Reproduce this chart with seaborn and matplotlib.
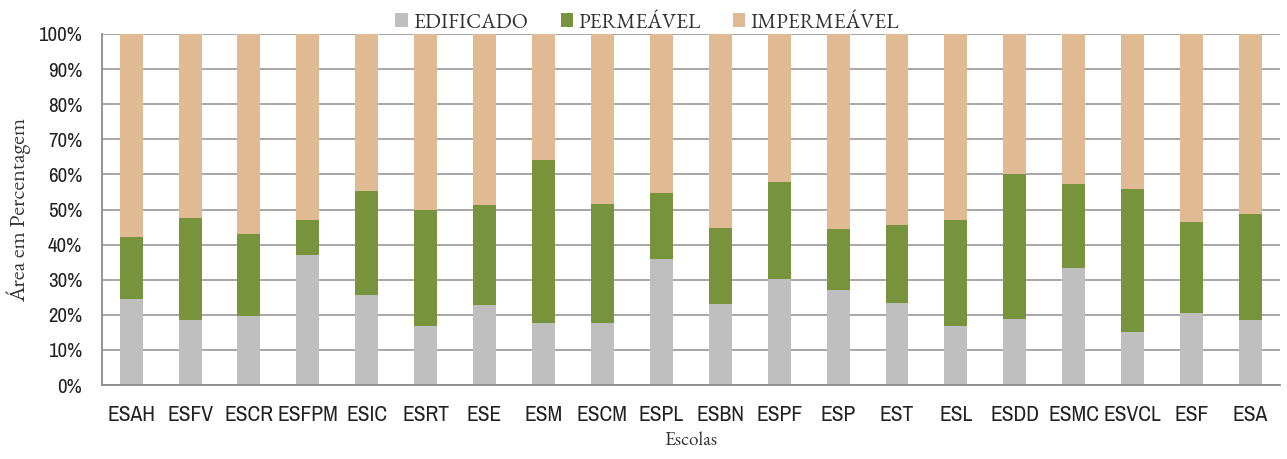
import numpy as np
import pandas as pd
import matplotlib
matplotlib.use('Agg')
import matplotlib.pyplot as plt
import seaborn as sns
from matplotlib.patches import Patch
from matplotlib.ticker import FixedLocator

# data (percent of area)
escolas = ['ESAH', 'ESFV', 'ESCR', 'ESFPM', 'ESIC', 'ESRT', 'ESE', 'ESM', 'ESCM', 'ESPL',
           'ESBN', 'ESPF', 'ESP', 'EST', 'ESL', 'ESDD', 'ESMC', 'ESVCL', 'ESF', 'ESA']
edificado = [24.6, 18.4, 19.8, 37.1, 25.8, 16.7, 22.9, 17.7, 17.7, 35.9,
             23.2, 30.3, 27.0, 23.3, 16.7, 18.9, 33.3, 15.1, 20.5, 18.6]
permeavel = [17.7, 29.1, 23.3, 9.9, 29.6, 33.3, 28.3, 46.3, 34.0, 18.7,
             21.5, 27.6, 17.5, 22.3, 30.3, 41.2, 23.9, 40.7, 26.0, 30.0]
impermeavel = [57.7, 52.5, 56.9, 53.0, 44.6, 50.0, 48.8, 36.0, 48.3, 45.4,
               55.3, 42.1, 55.5, 54.4, 53.0, 39.9, 42.8, 44.2, 53.5, 51.4]

series = ['EDIFICADO', 'PERMEÁVEL', 'IMPERMEÁVEL']
cores = {'EDIFICADO': '#BFBFBF', 'PERMEÁVEL': '#77933C', 'IMPERMEÁVEL': '#DFBA93'}

df = pd.DataFrame({'Escola': escolas, 'EDIFICADO': edificado,
                   'PERMEÁVEL': permeavel, 'IMPERMEÁVEL': impermeavel})
# cumulative tops for the stacked bars (drawn back to front)
df['ed_perm'] = df['EDIFICADO'] + df['PERMEÁVEL']
df['total'] = df['ed_perm'] + df['IMPERMEÁVEL']

sns.set_style('white')
serif = ['EB Garamond', 'Liberation Serif', 'DejaVu Serif']
narrow = ['Liberation Sans Narrow', 'Archivo Narrow', 'Liberation Sans', 'DejaVu Sans']

fig = plt.figure(figsize=(12.87, 4.59), dpi=100)
ax = fig.add_axes([0.079, 0.161, 0.9155, 0.765])

w = 0.39
sns.barplot(data=df, x='Escola', y='total', color=cores['IMPERMEÁVEL'], width=w,
            saturation=1, ax=ax, linewidth=0)
sns.barplot(data=df, x='Escola', y='ed_perm', color=cores['PERMEÁVEL'], width=w,
            saturation=1, ax=ax, linewidth=0)
sns.barplot(data=df, x='Escola', y='EDIFICADO', color=cores['EDIFICADO'], width=w,
            saturation=1, ax=ax, linewidth=0)

ax.set_ylim(0, 100)
ax.set_xlim(-0.5, len(escolas) - 0.5)
ax.set_yticks(np.arange(0, 101, 10))
ax.set_yticklabels([f'{v}%' for v in range(0, 101, 10)], family=narrow, fontsize=15, color='#222222')
ax.set_xticks(range(len(escolas)))
ax.set_xticklabels(escolas, family=narrow, fontsize=15.5, color='#222222')
ax.xaxis.set_minor_locator(FixedLocator(np.arange(-0.5, len(escolas), 1.0)))
ax.tick_params(axis='x', which='major', length=0, pad=14)
ax.tick_params(axis='x', which='minor', length=6, width=1.2, color='#8C8C8C', direction='out')
ax.tick_params(axis='y', which='major', length=6, width=1.2, color='#8C8C8C', direction='out', pad=8)

ax.set_axisbelow(True)
ax.yaxis.grid(True, color='#A0A0A0', linewidth=1.3)
ax.xaxis.grid(False)
for s in ['top', 'right']:
    ax.spines[s].set_visible(False)
for s in ['left', 'bottom']:
    ax.spines[s].set_color('#8C8C8C')
    ax.spines[s].set_linewidth(1.3)

ax.set_xlabel('Escolas', family=serif, fontsize=14, color='#333333', labelpad=5)
ax.set_ylabel('Área em Percentagem', family=serif, fontsize=16, color='#333333', labelpad=5)

handles = [Patch(facecolor=cores[s], edgecolor='none', label=s) for s in series]
leg = fig.legend(handles=handles, loc='upper center', bbox_to_anchor=(0.503, 1.015), ncol=3,
                 frameon=False, handlelength=0.58, handleheight=0.58, handletextpad=0.25,
                 columnspacing=1.55, prop={'family': serif, 'size': 15.2})
for t in leg.get_texts():
    t.set_color('#333333')

fig.savefig('out.png', dpi=100)
